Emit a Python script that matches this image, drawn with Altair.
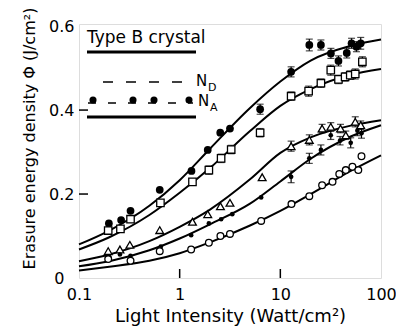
import altair as alt
import pandas as pd

# ---- data ----
A_x = [0.198, 0.262, 0.325, 0.634, 1.31, 1.9, 2.53, 3.16, 6.3, 12.8, 19.4, 25.3, 31.8, 37.8, 45.7, 51, 57, 62.9]
A_y = [0.130, 0.138, 0.160, 0.210, 0.255, 0.305, 0.346, 0.356, 0.402, 0.491, 0.555, 0.555, 0.535, 0.517, 0.536, 0.559, 0.551, 0.559]
A_e = [0, 0, 0, 0, 0, 0, 0, 0, 0.012, 0.012, 0.014, 0.012, 0.012, 0.012, 0.012, 0.012, 0.012, 0.014]

B_x = [0.195, 0.258, 0.325, 0.644, 1.34, 1.95, 2.58, 3.25, 6.3, 12.8, 19.1, 25.3, 31.7, 37.8, 44, 49.5, 55.5, 65.3]
B_y = [0.113, 0.117, 0.140, 0.179, 0.229, 0.257, 0.285, 0.306, 0.346, 0.433, 0.445, 0.464, 0.495, 0.473, 0.479, 0.483, 0.486, 0.515]
B_e = [0, 0, 0, 0, 0, 0.01, 0.01, 0.01, 0.01, 0.01, 0.012, 0.01, 0.012, 0.01, 0.01, 0.01, 0.012, 0.012]

C_x = [0.195, 0.255, 0.32, 0.634, 1.34, 1.9, 2.54, 3.16, 6.6, 12.8, 19.4, 26, 31.7, 39.6, 44.7, 55.5, 62.9]
C_y = [0.064, 0.068, 0.079, 0.114, 0.134, 0.152, 0.171, 0.179, 0.240, 0.314, 0.329, 0.356, 0.360, 0.356, 0.340, 0.372, 0.364]
C_e = [0, 0, 0, 0, 0, 0, 0, 0, 0, 0.012, 0.012, 0.01, 0.01, 0.01, 0.01, 0.012, 0.01]

D_x = [0.2, 0.255, 0.325, 0.65, 1.3, 1.95, 2.58, 3.33, 6.45, 12.8, 19.4, 25.3, 31.7, 39.2, 50, 58.3, 64]
D_y = [0.050, 0.056, 0.053, 0.075, 0.102, 0.130, 0.140, 0.152, 0.192, 0.241, 0.285, 0.305, 0.340, 0.327, 0.322, 0.351, 0.345]
D_e = [0, 0, 0, 0, 0, 0, 0, 0, 0, 0.014, 0.012, 0.012, 0.01, 0.01, 0.012, 0.012, 0.012]

E_x = [0.195, 0.325, 0.634, 1.3, 1.95, 2.54, 3.16, 6.45, 12.9, 19.4, 26, 33, 38.5, 44.7, 52, 59.5, 64]
E_y = [0.045, 0.041, 0.064, 0.068, 0.084, 0.100, 0.105, 0.136, 0.176, 0.195, 0.221, 0.229, 0.248, 0.257, 0.265, 0.257, 0.290]

# fitted curves, read at these intensities
curve_x = [0.1, 0.2, 0.5, 1, 2, 5, 10, 20, 50, 100]
curve_A = [0.080, 0.113, 0.172, 0.233, 0.308, 0.405, 0.468, 0.518, 0.553, 0.568]
curve_B = [0.068, 0.097, 0.150, 0.203, 0.262, 0.350, 0.410, 0.450, 0.484, 0.498]
curve_C = [0.040, 0.056, 0.088, 0.122, 0.163, 0.235, 0.298, 0.335, 0.363, 0.376]
curve_D = [0.028, 0.040, 0.066, 0.094, 0.128, 0.177, 0.230, 0.284, 0.337, 0.364]
curve_E = [0.018, 0.027, 0.041, 0.059, 0.085, 0.125, 0.160, 0.200, 0.255, 0.292]

x_ticks = [0.1, 1, 10, 100]
y_ticks = [0, 0.2, 0.4, 0.6]
inner_x_ticks = [1, 10]
inner_y_ticks = [0.2, 0.4]

W, H = 302, 254
FONT = "DejaVu Sans"

xs = alt.Scale(type="log", domain=[0.1, 100], nice=False)
ys = alt.Scale(domain=[0, 0.605], nice=False, zero=False)

# ---- tables ----
curves = pd.concat([
    pd.DataFrame({"s": n, "x": curve_x, "y": c})
    for n, c in [("A", curve_A), ("B", curve_B), ("C", curve_C), ("D", curve_D), ("E", curve_E)]
])

def pts(xv, yv, ev=None):
    df = pd.DataFrame({"x": xv, "y": yv})
    if ev is not None:
        df["e"] = ev
        df["lo"] = df["y"] - df["e"]
        df["hi"] = df["y"] + df["e"]
    return df

dA, dB, dC, dD = pts(A_x, A_y, A_e), pts(B_x, B_y, B_e), pts(C_x, C_y, C_e), pts(D_x, D_y, D_e)
dE = pts(E_x, E_y)
errs = pd.concat([dA, dB, dC, dD])
errs = errs[errs["e"] > 0]

X = alt.X("x:Q", scale=xs, axis=alt.Axis(
    values=x_ticks, labelExpr="datum.value < 1 ? '0.1' : format(datum.value, 'd')",
    title="Light Intensity  (Watt/cm²)", ticks=False, domain=False, grid=False,
    labelFlush=False, labelOverlap=False,
    labelFontSize=16, labelPadding=8, labelFont=FONT, labelColor="black",
    titleFont=FONT, titleFontSize=18, titleFontWeight="normal", titleColor="black",
    titleY=43, titleBaseline="alphabetic"))
Y = alt.Y("y:Q", scale=ys, axis=alt.Axis(
    values=y_ticks,
    labelExpr="datum.value == 0 ? '0' : format(datum.value, '.1f')",
    title="Erasure energy density  Φ  (J/cm²)", ticks=False, domain=False, grid=False,
    labelFlush=False, labelOverlap=False,
    labelFontSize=16, labelFont=FONT, labelColor="black",
    labelPadding={"condition": {"test": "datum.value == 0", "value": 15}, "value": 5},
    titleFont=FONT, titleFontSize=16, titleFontWeight="normal", titleColor="black",
    titleX=-50, titleY=114, titleAngle=-90, titleAlign="center", titleBaseline="middle"))

lines = alt.Chart(curves).mark_line(color="black", strokeWidth=2, interpolate="monotone").encode(
    x=X, y=Y, detail="s:N")

bars = alt.Chart(errs).mark_rule(color="black", strokeWidth=1.2).encode(
    x=alt.X("x:Q", scale=xs), y=alt.Y("lo:Q", scale=ys), y2="hi:Q")
capsL = alt.Chart(errs).mark_tick(color="black", orient="horizontal", size=7, thickness=1.2).encode(
    x=alt.X("x:Q", scale=xs), y=alt.Y("lo:Q", scale=ys))
capsH = alt.Chart(errs).mark_tick(color="black", orient="horizontal", size=7, thickness=1.2).encode(
    x=alt.X("x:Q", scale=xs), y=alt.Y("hi:Q", scale=ys))

def markers(df, shape, size, filled):
    if filled:
        m = alt.Chart(df).mark_point(shape=shape, size=size, filled=True, color="black", opacity=1)
    else:
        m = alt.Chart(df).mark_point(shape=shape, size=size, filled=True, fill="white",
                                     stroke="black", strokeWidth=1.3, opacity=1)
    return m.encode(x=alt.X("x:Q", scale=xs), y=alt.Y("y:Q", scale=ys))

pA = markers(dA, "circle", 60, True)
pB = markers(dB, "square", 55, False)
pC = markers(dC, "triangle-up", 60, False)
pD = markers(dD, "circle", 22, True)
pE = markers(dE, "circle", 45, False)

# inner tick marks
xt = alt.Chart(pd.DataFrame({"x": inner_x_ticks})).mark_rule(color="black", strokeWidth=1.5).encode(
    x=alt.X("x:Q", scale=xs), y=alt.value(H), y2=alt.value(H - 9))
yt = alt.Chart(pd.DataFrame({"y": inner_y_ticks})).mark_rule(color="black", strokeWidth=1.5).encode(
    y=alt.Y("y:Q", scale=ys), x=alt.value(0), x2=alt.value(9))

# inset legend
one = pd.DataFrame({"k": [0]})

def txt(t, x, y, size):
    return alt.Chart(pd.DataFrame({"t": [t]})).mark_text(
        align="left", baseline="alphabetic", font=FONT, fontSize=size, color="black").encode(
        text="t:N", x=alt.value(x), y=alt.value(y))

def hline(x1, x2, y, width, dash=None):
    kw = dict(color="black", strokeWidth=width)
    if dash:
        kw["strokeDash"] = dash
    return alt.Chart(one).mark_rule(**kw).encode(x=alt.value(x1), x2=alt.value(x2), y=alt.value(y))

def dot(x, y):
    return alt.Chart(one).mark_point(shape="circle", filled=True, color="black", size=50, opacity=1).encode(
        x=alt.value(x), y=alt.value(y))

legend = [
    txt("Type B crystal", 8, 19, 17),
    hline(8, 117, 28, 3),
    hline(24, 107, 58, 1.5, [10, 13]),
    hline(9, 114, 79, 1.5, [8, 12]),
    dot(14, 76), dot(54, 76), dot(75, 76), dot(110, 76),
    txt("N", 117, 62, 15), txt("D", 129, 67, 11),
    txt("N", 119, 82, 15), txt("A", 131, 87, 11),
    hline(8, 117, 93, 3),
]

chart = alt.layer(
    lines, bars, capsL, capsH, pA, pB, pC, pD, pE, xt, yt, *legend
).properties(
    width=W, height=H,
    autosize=alt.AutoSizeParams(type="none"),
    padding={"left": 71, "top": 16, "right": 15, "bottom": 52},
).configure_view(stroke="black", strokeWidth=1.5).configure(background="white")

chart.save("out.html", embed_options={"renderer": "svg", "actions": False})
